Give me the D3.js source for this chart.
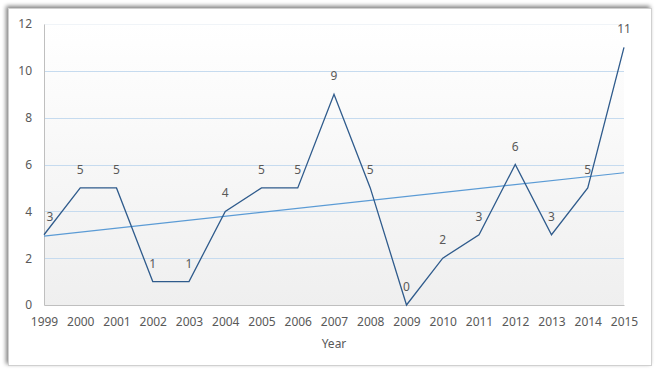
<!DOCTYPE html>
<html>
<head>
<meta charset="utf-8">
<script src="https://cdn.jsdelivr.net/npm/d3@7"></script>
<style>
  body { margin: 0; background: #fff; }
  text { font-family: "Noto Sans", "Open Sans", sans-serif; fill: #595959; }
</style>
</head>
<body>
<svg id="chart" width="656" height="372"></svg>
<script>
// data
let years = [1999, 2000, 2001, 2002, 2003, 2004, 2005, 2006, 2007, 2008, 2009, 2010, 2011, 2012, 2013, 2014, 2015];
let counts = [3, 5, 5, 1, 1, 4, 5, 5, 9, 5, 0, 2, 3, 6, 3, 5, 11];
let yTicks = [0, 2, 4, 6, 8, 10, 12];

let svg = d3.select("#chart");
let margin = {left: 44, right: 32, top: 24, bottom: 67};
let width = 656 - margin.left - margin.right,
    height = 372 - margin.top - margin.bottom;

// frame with shadow
let defs = svg.append("defs");
let f = defs.append("filter").attr("id", "shadow")
    .attr("x", "-5%").attr("y", "-5%").attr("width", "110%").attr("height", "110%");
f.append("feGaussianBlur").attr("in", "SourceAlpha").attr("stdDeviation", 2);
f.append("feOffset").attr("dx", -2).attr("dy", -2).attr("result", "b");
f.append("feComponentTransfer").append("feFuncA").attr("type", "linear").attr("slope", 0.5);
let fm = f.append("feMerge");
fm.append("feMergeNode");
fm.append("feMergeNode").attr("in", "SourceGraphic");

svg.append("rect")
    .attr("x", 8.5).attr("y", 8.5).attr("width", 643).attr("height", 357)
    .attr("fill", "#fff").attr("stroke", "#d0d0d0")
    .attr("filter", "url(#shadow)");

let grad = defs.append("linearGradient").attr("id", "bg")
    .attr("x1", 0).attr("y1", 0).attr("x2", 0).attr("y2", 1);
grad.append("stop").attr("offset", "0%").attr("stop-color", "#ffffff");
grad.append("stop").attr("offset", "100%").attr("stop-color", "#efefef");

let g = svg.append("g").attr("transform", `translate(${margin.left},${margin.top})`);

let x = d3.scaleLinear().domain([years[0], years[years.length - 1]]).range([0, width]);
let y = d3.scaleLinear().domain([0, 12]).range([height, 0]);

g.append("rect").attr("width", width).attr("height", height).attr("fill", "url(#bg)");

// gridlines
g.append("g")
    .selectAll("line")
    .data(yTicks.filter(d => d > 0))
    .enter().append("line")
    .attr("x1", 0).attr("x2", width)
    .attr("y1", d => Math.round(y(d)) + 0.5).attr("y2", d => Math.round(y(d)) + 0.5)
    .attr("stroke", d => d === 12 ? "#f0f4f8" : "#c6dbef");

// axes
let yAxis = g.append("g")
    .call(d3.axisLeft(y).tickValues(yTicks).tickSize(0).tickPadding(12));
yAxis.select(".domain").attr("stroke", "#bfbfbf");
yAxis.selectAll("text").style("font-size", "12px").attr("fill", "#595959");

let xAxis = g.append("g")
    .attr("transform", `translate(0,${height})`)
    .call(d3.axisBottom(x).tickValues(years).tickFormat(d3.format("d")).tickSize(0).tickPadding(12));
xAxis.select(".domain").attr("stroke", "#bfbfbf");
xAxis.selectAll("text").style("font-size", "12px").attr("fill", "#595959");

g.append("text")
    .attr("x", width / 2).attr("y", height + 43)
    .attr("text-anchor", "middle")
    .style("font-size", "12px")
    .text("Year");

// linear trendline
let xs = years.map((d, i) => i);
let mx = d3.mean(xs), my = d3.mean(counts);
let slope = d3.sum(xs, (d, i) => (d - mx) * (counts[i] - my)) / d3.sum(xs, d => (d - mx) * (d - mx));
let icpt = my - slope * mx;
let ends = [0, xs.length - 1];

g.append("line")
    .attr("x1", x(years[ends[0]])).attr("y1", y(icpt + slope * ends[0]))
    .attr("x2", x(years[ends[1]])).attr("y2", y(icpt + slope * ends[1]))
    .attr("stroke", "#5b9bd5").attr("stroke-width", 1.2);

// main series
let line = d3.line()
    .x((d, i) => x(years[i]))
    .y(d => y(d));

g.append("path")
    .datum(counts)
    .attr("d", line)
    .attr("fill", "none")
    .attr("stroke", "#2f5b8c")
    .attr("stroke-width", 1.3);

g.append("g")
    .selectAll("text")
    .data(counts)
    .enter().append("text")
    .attr("x", (d, i) => x(years[i]) + (i === 0 ? 6 : 0))
    .attr("y", d => y(d) - 14)
    .attr("text-anchor", "middle")
    .attr("fill", "#595959")
    .style("font-size", "12px")
    .text(d => d);
</script>
</body>
</html>
